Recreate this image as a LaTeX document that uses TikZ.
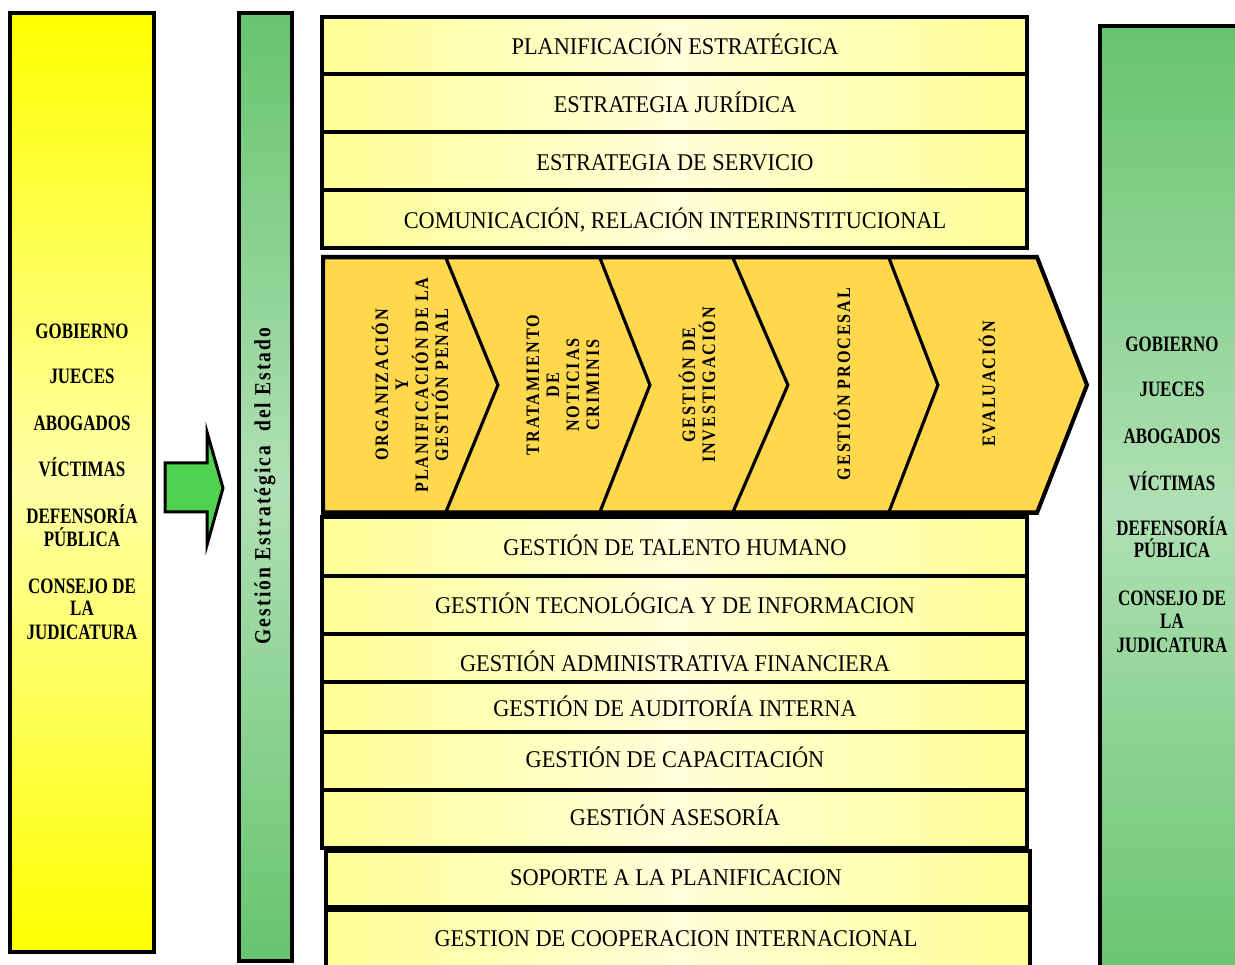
\documentclass[tikz,border=0pt]{standalone}
\usepackage{fontspec}
\setmainfont{Liberation Serif}
\newfontfamily\rowfont[FakeStretch=0.93]{Liberation Serif}
\newfontfamily\colfont[FakeStretch=0.77]{Liberation Serif}
\newfontfamily\chevfont[FakeStretch=0.85,LetterSpace=10]{Liberation Serif}
\newfontfamily\barfont[FakeStretch=0.85,LetterSpace=9]{Liberation Serif}
\definecolor{yel}{RGB}{255,255,0}
\definecolor{yellight}{RGB}{255,255,165}
\definecolor{grdark}{RGB}{102,196,110}
\definecolor{grlight}{RGB}{176,224,180}
\definecolor{rowedge}{RGB}{255,255,150}
\definecolor{rowmid}{RGB}{255,255,218}
\definecolor{chev}{RGB}{255,216,77}
\definecolor{arrowgreen}{RGB}{80,210,80}
\begin{document}
\begin{tikzpicture}[x=1pt,y=-1pt,
  rowbox/.style={draw=black, line width=3.5pt, left color=rowedge, right color=rowedge, middle color=rowmid},
  rowtext/.style={font=\rowfont\fontsize{24}{26}\selectfont, text height=15.5pt, text depth=0pt, inner sep=0pt},
  coltext/.style={font=\colfont\bfseries\fontsize{22}{22}\selectfont, anchor=base, inner sep=0pt},
  chevshape/.style={draw=black, line width=3pt, fill=chev, line join=miter},
  chevtext/.style={font=\chevfont\bfseries\fontsize{19}{20}\selectfont, rotate=90, align=center, inner sep=0pt},
  bartext/.style={font=\barfont\bfseries\fontsize{23}{23}\selectfont, rotate=90, inner sep=0pt},
]
\clip (0,0) rectangle (1235,965);
\fill[white] (0,0) rectangle (1235,965);

% left yellow column
\draw[line width=4pt, top color=yel, bottom color=yel, middle color=yellight] (10,13) rectangle (154,952);
% green bar
\draw[line width=4pt, top color=grdark, bottom color=grdark, middle color=grlight] (239,13) rectangle (292,961);
% right green column
\draw[line width=4pt, top color=grdark, bottom color=grdark, middle color=grlight] (1100,26) rectangle (1262,990);

% block arrow
\draw[line width=3pt, fill=arrowgreen, line join=miter] (165,463) -- (207,463) -- (207,432) -- (223,488) -- (207,545) -- (207,512) -- (165,512) -- cycle;

% upper rows
\draw[rowbox] (322,17) rectangle (1027,74);
\draw[rowbox] (322,74) rectangle (1027,132);
\draw[rowbox] (322,132) rectangle (1027,190);
\draw[rowbox] (322,190) rectangle (1027,248);
% lower rows
\draw[rowbox] (322,517) rectangle (1027,576);
\draw[rowbox] (322,576) rectangle (1027,634);
\draw[rowbox] (322,634) rectangle (1027,682);
\draw[rowbox] (322,682) rectangle (1027,732);
\draw[rowbox] (322,732) rectangle (1027,790);
\draw[rowbox] (322,790) rectangle (1027,848);
\draw[rowbox] (326,851) rectangle (1030,907);
\draw[rowbox] (326,910) rectangle (1030,975);

% chevrons
\draw[chevshape] (323,258) -- (446,258) -- (498,385) -- (446,512) -- (323,512) -- cycle;
\draw[chevshape] (446,258) -- (600,258) -- (650,385) -- (600,512) -- (446,512) -- (498,385) -- cycle;
\draw[chevshape] (600,258) -- (733,258) -- (788,385) -- (733,512) -- (600,512) -- (650,385) -- cycle;
\draw[chevshape] (733,258) -- (889,258) -- (938,385) -- (889,512) -- (733,512) -- (788,385) -- cycle;
\draw[chevshape] (889,258) -- (1037,258) -- (1087,385) -- (1037,512) -- (889,512) -- (938,385) -- cycle;
\draw[line width=4pt, line join=miter] (323,257) -- (1037,257) -- (1087,385) -- (1037,513) -- (323,513) -- cycle;

% row texts
\node[rowtext] (r1) at (675,47) {PLANIFICACIÓN ESTRATÉGICA};
\node[rowtext] (r2) at (675,105) {ESTRATEGIA JURÍDICA};
\node[rowtext] (r3) at (675,163) {ESTRATEGIA DE SERVICIO};
\node[rowtext] (r4) at (675,221) {COMUNICACIÓN, RELACIÓN INTERINSTITUCIONAL};
\node[rowtext] (r5) at (675,548) {GESTIÓN DE TALENTO HUMANO};
\node[rowtext] (r6) at (675,606) {GESTIÓN TECNOLÓGICA Y DE INFORMACION};
\node[rowtext] (r7) at (675,664) {GESTIÓN ADMINISTRATIVA FINANCIERA};
\node[rowtext] (r8) at (675,709) {GESTIÓN DE AUDITORÍA INTERNA};
\node[rowtext] (r9) at (675,760) {GESTIÓN DE CAPACITACIÓN};
\node[rowtext] (r10) at (675,818) {GESTIÓN ASESORÍA};
\node[rowtext] (r11) at (676,878) {SOPORTE A LA PLANIFICACION};
\node[rowtext] (r12) at (676,939) {GESTION DE COOPERACION INTERNACIONAL};

% chevron texts
\node[chevtext] (c1) at (410,385) {ORGANIZACIÓN\\Y\\PLANIFICACIÓN DE LA\\GESTIÓN PENAL};
\node[chevtext] (c2) at (563,385) {TRATAMIENTO\\DE\\NOTICIAS\\CRIMINIS};
\node[chevtext] (c3) at (697,385) {GESTIÓN DE\\INVESTIGACIÓN};
\node[chevtext] (c4) at (842,384) {GESTIÓN PROCESAL};
\node[chevtext] (c5) at (987,384) {EVALUACIÓN};

% bar text
\node[bartext] (bar) at (265,486) {Gestión Estratégica~ del Estado};

% left column
\node[coltext] (l1) at (82,339) {GOBIERNO};
\node[coltext] (l2) at (82,384) {JUECES};
\node[coltext] (l3) at (82,431) {ABOGADOS};
\node[coltext] (l4) at (82,477) {VÍCTIMAS};
\node[coltext] (l5a) at (82,524) {DEFENSORÍA};
\node[coltext] (l5b) at (82,546) {PÚBLICA};
\node[coltext] (l6a) at (82,593) {CONSEJO DE};
\node[coltext] (l6b) at (82,615) {LA};
\node[coltext] (l6c) at (82,639) {JUDICATURA};

% right column
\node[coltext] (q1) at (1172,352) {GOBIERNO};
\node[coltext] (q2) at (1172,397) {JUECES};
\node[coltext] (q3) at (1172,444) {ABOGADOS};
\node[coltext] (q4) at (1172,490) {VÍCTIMAS};
\node[coltext] (q5a) at (1172,536) {DEFENSORÍA};
\node[coltext] (q5b) at (1172,558) {PÚBLICA};
\node[coltext] (q6a) at (1172,605) {CONSEJO DE};
\node[coltext] (q6b) at (1172,628) {LA};
\node[coltext] (q6c) at (1172,652) {JUDICATURA};
\end{tikzpicture}
\end{document}
